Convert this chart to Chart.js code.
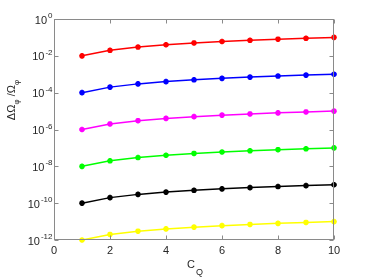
<!DOCTYPE html>
<html><head><meta charset="utf-8">
<script src="https://cdn.jsdelivr.net/npm/chart.js@4/dist/chart.umd.min.js"></script>
<style>html,body{margin:0;padding:0;background:#fff}canvas{display:block}</style>
</head><body><canvas id="c" width="369" height="277" style="width:369px;height:277px"></canvas>
<script>
const cq = [1,2,3,4,5,6,7,8,9,10];
const redVals = [1e-2,2e-2,3e-2,4e-2,5e-2,6e-2,7e-2,8e-2,9e-2,1e-1];
const blueVals = [1e-4,2e-4,3e-4,4e-4,5e-4,6e-4,7e-4,8e-4,9e-4,1e-3];
const magentaVals = [1e-6,2e-6,3e-6,4e-6,5e-6,6e-6,7e-6,8e-6,9e-6,1e-5];
const greenVals = [1e-8,2e-8,3e-8,4e-8,5e-8,6e-8,7e-8,8e-8,9e-8,1e-7];
const blackVals = [1e-10,2e-10,3e-10,4e-10,5e-10,6e-10,7e-10,8e-10,9e-10,1e-9];
const yellowVals = [1e-12,2e-12,3e-12,4e-12,5e-12,6e-12,7e-12,8e-12,9e-12,1e-11];
const xTicks = [0,2,4,6,8,10];
const yTickVals = [1e-12,1e-10,1e-8,1e-6,1e-4,1e-2,1];
const yTickExps = ['-12','-10','-8','-6','-4','-2','0'];

const series = [
  {vals: redVals, color:'#ff0000'},
  {vals: blueVals, color:'#0000ff'},
  {vals: magentaVals, color:'#ff00ff'},
  {vals: greenVals, color:'#00ff00'},
  {vals: blackVals, color:'#000000'},
  {vals: yellowVals, color:'#ffff00'}
];

const FONT = '"Liberation Sans", Arial, sans-serif';
const axisColor = '#8a8a8a';
const textColor = '#262626';

const axesPlugin = {
  id: 'matlabAxes',
  afterDraw(chart) {
    const ctx = chart.ctx;
    const xs = chart.scales.x, ys = chart.scales.y;
    const a = chart.chartArea;
    const L = Math.round(a.left)+0.5, R = Math.round(a.right)-0.5, T = Math.round(a.top)+0.5, B = Math.round(a.bottom)-0.5;
    ctx.save();
    ctx.strokeStyle = axisColor; ctx.lineWidth = 1;
    ctx.strokeRect(L, T, R-L, B-T);
    const tl = 4;
    ctx.beginPath();
    xTicks.forEach(v => {
      const px = Math.round(xs.getPixelForValue(v))+0.5;
      ctx.moveTo(px, B); ctx.lineTo(px, B-tl);
      ctx.moveTo(px, T); ctx.lineTo(px, T+tl);
    });
    yTickVals.forEach(v => {
      const py = Math.round(ys.getPixelForValue(v))+0.5;
      ctx.moveTo(L, py); ctx.lineTo(L+tl, py);
      ctx.moveTo(R, py); ctx.lineTo(R-tl, py);
    });
    ctx.stroke();
    ctx.fillStyle = textColor;
    ctx.font = '11px ' + FONT;
    ctx.textAlign = 'center'; ctx.textBaseline = 'top';
    xTicks.forEach(v => {
      ctx.fillText(String(v), xs.getPixelForValue(v), B+6);
    });
    yTickVals.forEach((v,i) => {
      const py = ys.getPixelForValue(v);
      ctx.font = '8px ' + FONT;
      const ew = ctx.measureText(yTickExps[i]).width;
      ctx.textAlign = 'right'; ctx.textBaseline = 'alphabetic';
      ctx.fillText(yTickExps[i], L - 2, py - 1);
      ctx.font = '11px ' + FONT;
      ctx.fillText('10', L - 3 - ew, py + 4.5);
    });
    ctx.textAlign = 'left'; ctx.textBaseline = 'alphabetic';
    ctx.font = '11px ' + FONT;
    const cx = (a.left + a.right)/2 - 7;
    ctx.fillText('C', cx, 267.5);
    ctx.font = '9px ' + FONT;
    ctx.fillText('Q', cx + 9, 275);
    ctx.translate(15, 100);
    ctx.rotate(-Math.PI/2);
    const parts = [['ΔΩ',11,0],['φ',8,3.5],[' /Ω',11,0],['φ',8,3.5]];
    let tot = 0;
    parts.forEach(p => { ctx.font = p[1]+'px '+FONT; tot += ctx.measureText(p[0]).width; });
    let x0 = -tot/2;
    parts.forEach(p => {
      ctx.font = p[1]+'px '+FONT;
      ctx.fillText(p[0], x0, p[2]);
      x0 += ctx.measureText(p[0]).width;
    });
    ctx.restore();
  }
};

new Chart(document.getElementById('c'), {
  type: 'line',
  data: {
    labels: cq,
    datasets: series.map(s => ({
      data: s.vals.map((v,i) => ({x: cq[i], y: v})),
      borderColor: s.color,
      backgroundColor: s.color,
      borderWidth: 1.5,
      pointStyle: 'star',
      pointRadius: 2.8,
      pointBorderWidth: 1.8,
      pointBorderColor: s.color,
      tension: 0,
      clip: false
    }))
  },
  options: {
    responsive: false,
    animation: false,
    devicePixelRatio: 1,
    layout: {padding: {top: 19, right: 35, left: 0, bottom: 0}},
    plugins: {legend: {display: false}, tooltip: {enabled: false}},
    scales: {
      x: {
        type: 'linear', min: 0, max: 10,
        grid: {display: false}, border: {display: false},
        ticks: {display: false},
        afterFit(s) { s.height = 37; }
      },
      y: {
        type: 'logarithmic', min: 1e-12, max: 1,
        grid: {display: false}, border: {display: false},
        ticks: {display: false},
        afterFit(s) { s.width = 54; }
      }
    }
  },
  plugins: [axesPlugin]
});
</script>
</body></html>
